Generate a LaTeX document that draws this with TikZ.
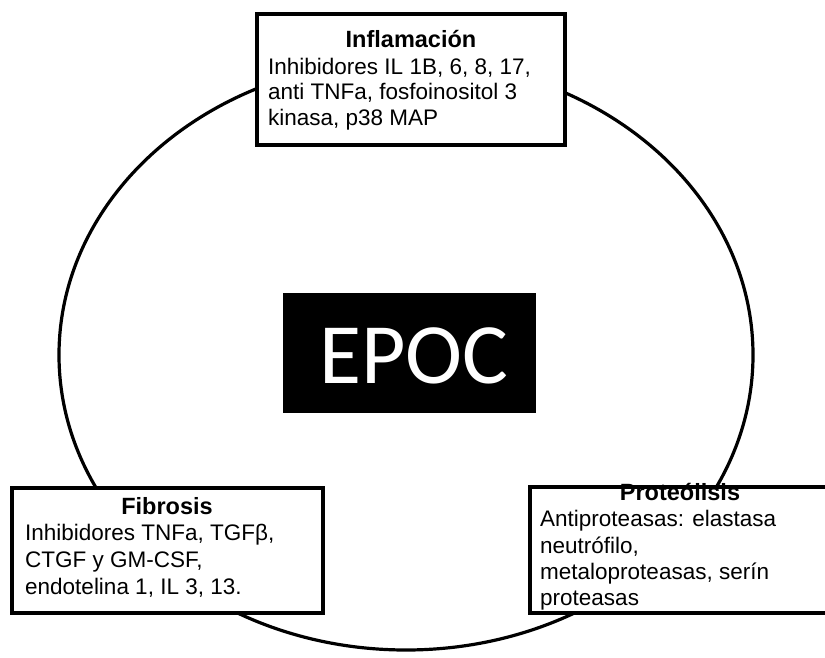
\documentclass[tikz,border=0pt]{standalone}
\usepackage{fontspec}
\setmainfont{Liberation Sans}
\newfontfamily\epocfont{Carlito}
\begin{document}
\begin{tikzpicture}[x=1pt,y=-1pt,
  panel/.style={draw=black, line width=3.2pt, fill=white, inner sep=0pt},
  head/.style={font=\fontsize{23.5}{26}\selectfont\bfseries, anchor=base, inner sep=0pt},
  body/.style={font=\fontsize{22.5}{26}\selectfont, anchor=base west, inner sep=0pt}]
\useasboundingbox (0,0) rectangle (825,658);

% the large ring behind the three panels
\draw[line width=3.2pt] (406,355) ellipse [x radius=347pt, y radius=295pt];

% central title block
\node[fill=black, inner sep=0pt, minimum width=253pt, minimum height=120pt] (epoc) at (409.5,353) {};
\node[anchor=base, inner sep=0pt, text=white, font=\epocfont\fontsize{86}{92}\selectfont] (epoctxt) at (414,383) {EPOC};

% top panel
\node[panel, minimum width=308pt, minimum height=131pt] (inflam) at (411,79.5) {};
\node[head] (inflamH) at (411,48) {Inflamación};
\node[body] (inflam1) at (268,74.5) {Inhibidores IL 1B, 6, 8, 17,};
\node[body] (inflam2) at (268,100) {anti TNFa, fosfoinositol 3};
\node[body] (inflam3) at (268,126) {kinasa, p38 MAP};

% lower left panel
\node[panel, minimum width=311pt, minimum height=125pt] (fib) at (167.5,550.5) {};
\node[head] (fibH) at (167,514) {Fibrosis};
\node[body] (fib1) at (25,540) {Inhibidores TNFa, TGFβ,};
\node[body] (fib2) at (25,567) {CTGF y GM-CSF,};
\node[body] (fib3) at (25,594) {endotelina 1, IL 3, 13.};

% lower right panel, running past the page edge
\node[panel, minimum width=300pt, minimum height=126pt] (prot) at (680,550) {};
\node[head] (protH) at (680,500) {Proteólisis};
\node[body] (prot1) at (540,526) {Antiproteasas: elastasa};
\node[body] (prot2) at (540,553) {neutrófilo,};
\node[body] (prot3) at (540,579) {metaloproteasas, serín};
\node[body] (prot4) at (540,605) {proteasas};
\end{tikzpicture}
\end{document}
